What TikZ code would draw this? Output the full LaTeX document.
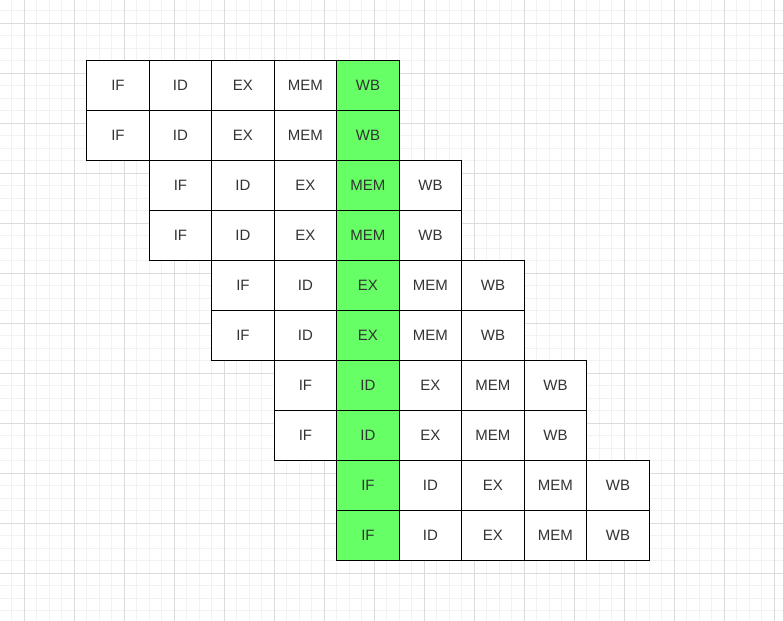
\documentclass[tikz,border=0pt]{standalone}
\usepackage{fontspec}
\setmainfont{Liberation Sans}
\usetikzlibrary{calc}
\definecolor{stagegreen}{HTML}{66FF66}
\definecolor{gridmajor}{HTML}{DCDCDC}
\definecolor{gridminor}{HTML}{F2F2F2}
\definecolor{stagetext}{HTML}{333333}
\tikzset{
    my-minor-line/.style={
        draw=gridminor, line width=0.75pt
    },
    my-major-line/.style={
        draw=gridmajor, line width=0.75pt
    },
    my-stage/.style={
        draw=black, fill=white, line width=0.9pt, rectangle, anchor=north west,
        minimum width=46.875pt, minimum height=37.5pt, inner sep=0pt, outer sep=0pt,
        text=stagetext, font=\fontsize{11.25}{13}\selectfont
    },
    my-stage-hl/.style={
        my-stage, fill=stagegreen
    },
}
\begin{document}
\begin{tikzpicture}[x=0.75pt, y=-0.75pt]

        % CANVAS
        \useasboundingbox[fill=white] (0,0) rectangle (783,621);

        % BACKGROUND GRID
        \foreach \k in {0,...,62} {
            \draw[my-minor-line] ({11.7+12.5*\k},0) -- ({11.7+12.5*\k},621);
        }
        \foreach \k in {0,...,49} {
            \draw[my-minor-line] (0,{10.8+12.5*\k}) -- (783,{10.8+12.5*\k});
        }
        \foreach \k in {0,...,15} {
            \draw[my-major-line] ({24.2+50*\k},0) -- ({24.2+50*\k},621);
        }
        \foreach \k in {0,...,12} {
            \draw[my-major-line] (0,{23.3+50*\k}) -- (783,{23.3+50*\k});
        }

        % ORIGIN OF THE PIPELINE TABLE
        \coordinate (ORIGIN) at (86.7,60.8);

        % PIPELINE ROWS, TWO INSTRUCTIONS PER CYCLE
        \foreach \r in {0,...,9} {
            \pgfmathtruncatemacro{\shift}{int(\r/2)}
            \foreach \s [count=\n from 0] in {IF,ID,EX,MEM,WB} {
                \pgfmathtruncatemacro{\col}{\shift+\n}
                \ifnum\col=4 \def\cellstyle{my-stage-hl}\else\def\cellstyle{my-stage}\fi
                \node[\cellstyle] (I\r-\n) at ($(ORIGIN) + ({62.5*\col},{50*\r})$) {\s};
            }
        }

\end{tikzpicture}
\end{document}
